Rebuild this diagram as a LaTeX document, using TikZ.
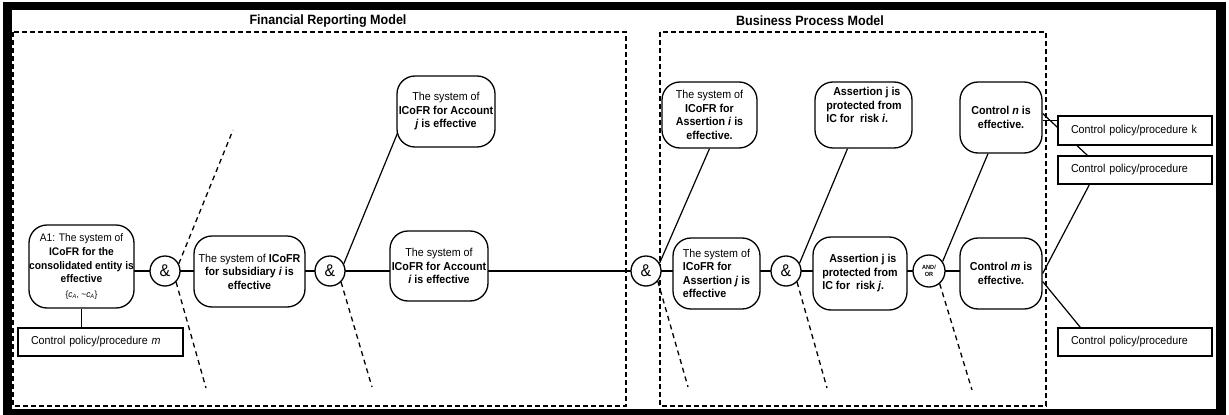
\documentclass[tikz,border=0pt]{standalone}
\usepackage{fontspec}
\setmainfont{Liberation Sans}[FakeStretch=0.93]
\usetikzlibrary{backgrounds}
\begin{document}
\begin{tikzpicture}[x=1pt,y=-1pt,
  gbox/.style={draw, line width=1.3pt, rounded corners=18pt, fill=white, align=center,
               inner sep=0pt, font=\fontsize{11.5}{13.5}\selectfont},
  gtext/.style={inner sep=0pt, font=\fontsize{11.5}{13.5}\selectfont},
  gate/.style={draw, circle, line width=1.3pt, fill=white, minimum size=30pt, inner sep=0pt,
               font=\fontsize{17}{17}\selectfont},
  cpp/.style={draw, line width=1.2pt, fill=white, minimum height=28pt, inner xsep=13pt,
              inner ysep=0pt, align=left, font=\fontsize{11.5}{13.5}\selectfont},
  link/.style={line width=1.2pt},
  ghost/.style={line width=1.3pt, dash pattern=on 5pt off 4pt},
  frame/.style={line width=1.5pt, dash pattern=on 5pt off 3pt},
  heading/.style={inner sep=0pt, font=\fontsize{13.5}{16}\selectfont\bfseries}
]
\useasboundingbox (0,0) rectangle (1229,415);

% ---------- goal tree ----------
\node[gbox, minimum width=105pt, minimum height=83pt, font=\fontsize{11}{13.7}\selectfont] (a1) at (81.5,266.5)
  {A1: The system of\\\textbf{ICoFR for the}\\\textbf{consolidated entity is}\\\textbf{effective}\\[1pt]
   {\fontsize{9}{10}\selectfont\{\textit{c}\textsubscript{\textit{A}}, \textasciitilde\textit{c}\textsubscript{\textit{A}}\}}};
\node[gate] (and1) at (165,271) {\&};
\node[gbox, minimum width=111pt, minimum height=71pt] (sub) at (249.5,271.5)
  {The system of \textbf{ICoFR}\\\textbf{for subsidiary \textit{i} is}\\\textbf{effective}};
\node[gate] (and2) at (330,271) {\&};
\node[gbox, minimum width=98pt, minimum height=70pt] (acci) at (439,266)
  {The system of\\\textbf{ICoFR for Account}\\\textbf{\textit{i} is effective}};
\node[gbox, minimum width=98pt, minimum height=71pt] (accj) at (446,111.5)
  {The system of\\\textbf{ICoFR for Account}\\\textbf{\textit{j} is effective}};
\node[gate] (and3) at (646,271) {\&};
\node[gbox, minimum width=95pt, minimum height=66pt] (asrti) at (709.5,115)
  {The system of\\\textbf{ICoFR for}\\\textbf{Assertion \textit{i} is}\\\textbf{effective.}};
\node[gbox, minimum width=87pt, minimum height=71pt, align=left] (asrtj) at (716.5,273.5)
  {The system of\\\textbf{ICoFR for}\\\textbf{Assertion \textit{j} is}\\\textbf{effective}};
\node[gate] (and4) at (786,271) {\&};
\node[gbox, minimum width=97pt, minimum height=66pt] (riski) at (863.5,115) {};
\node[gtext, align=left] (riskitext) at (864,105)
  {\hspace*{7pt}\textbf{Assertion j is}\\\textbf{protected from}\\\textbf{IC for\ \ risk \textit{i}.}};
\node[gbox, minimum width=94pt, minimum height=73pt, align=left] (riskj) at (860,273.5)
  {\hspace*{7pt}\textbf{Assertion j is}\\\textbf{protected from}\\\textbf{IC for\ \ risk \textit{j}.}};
\node[gate, minimum size=32pt, align=center, font=\fontsize{6}{7}\selectfont\bfseries] (andor) at (929,271) {AND/\\OR};
\node[gbox, minimum width=82pt, minimum height=71pt] (ctrln) at (1001,117.5)
  {\textbf{Control \textit{n} is}\\\textbf{effective.}};
\node[gbox, minimum width=82pt, minimum height=71pt] (ctrlm) at (1001,273.5)
  {\textbf{Control \textit{m} is}\\\textbf{effective.}};

% ---------- control policy boxes ----------
\node[cpp, text width=128pt, minimum height=29pt] (cppk) at (1135,130.5) {Control policy/procedure k};
\node[cpp, text width=128pt] (cpp2) at (1135,170) {Control policy/procedure};
\node[cpp, text width=128pt] (cpp3) at (1135,342) {Control policy/procedure};
\node[cpp, text width=139pt] (cppm) at (100.5,342) {Control policy/procedure \textit{m}};

% ---------- headings ----------
\node[heading] (frmtitle) at (328,21) {Financial Reporting Model};
\node[heading] (bpmtitle) at (810,21) {Business Process Model};

% loose ends of the dashed branches
\coordinate (g1u) at (233,130);
\coordinate (g1d) at (206,388);
\coordinate (g2d) at (372,387);
\coordinate (g3d) at (688,387);
\coordinate (g4d) at (827,388);
\coordinate (g5d) at (972,390);

\begin{pgfonlayer}{background}
  % page frame
  \fill[black] (3,2) rectangle (1226,415);
  \fill[white] (12,10) rectangle (1216,409);
  % model regions
  \draw[frame] (13,32) rectangle (626,406);
  \draw[frame] (660,32) rectangle (1046,406);

  % main chain
  \draw[link] (a1.center |- and1.center) -- (and1.center);
  \draw[link] (and1.center) -- (sub.center |- and1.center);
  \draw[link] (sub.center |- and2.center) -- (and2.center);
  \draw[link] (and2.center) -- (acci.center |- and2.center);
  \draw[link] (acci.center |- and3.center) -- (and3.center);
  \draw[link] (and3.center) -- (asrtj.center |- and3.center);
  \draw[link] (asrtj.center |- and4.center) -- (and4.center);
  \draw[link] (and4.center) -- (riskj.center |- and4.center);
  \draw[link] (riskj.center |- andor.center) -- (andor.center);
  \draw[link] (andor.center) -- (ctrlm.center |- andor.center);
  \draw[link] (a1.south) -- (a1.south |- cppm.north);

  % upper branches
  \draw[link] (and2.28) -- ([xshift=3pt,yshift=19pt]accj.south west);
  \draw[link] (and3.30) -- (asrti.south);
  \draw[link] (and4.30) -- ([xshift=-16pt]riski.south);
  \draw[link] (andor.35) -- ([xshift=-13pt]ctrln.south);

  % controls to policies
  \draw[link] ([yshift=-3pt]ctrln.east) -- ([yshift=-3pt]ctrln.east -| cppk.west);
  \draw[link] ([yshift=4pt]ctrln.east) -- ([xshift=30pt]cpp2.north west);
  \draw[link] (ctrlm.east) -- ([xshift=32pt]cpp2.south west);
  \draw[link] ([yshift=-8pt]ctrlm.east) -- ([xshift=23pt]cpp3.north west);

  % dashed branches
  \draw[ghost] (and1.28) -- (g1u);
  \draw[ghost] (and1.-45) -- (g1d);
  \draw[ghost] (and2.-45) -- (g2d);
  \draw[ghost] (and3.-41) -- (g3d);
  \draw[ghost] (and4.-45) -- (g4d);
  \draw[ghost] (andor.-50) -- (g5d);
\end{pgfonlayer}
\end{tikzpicture}
\end{document}
